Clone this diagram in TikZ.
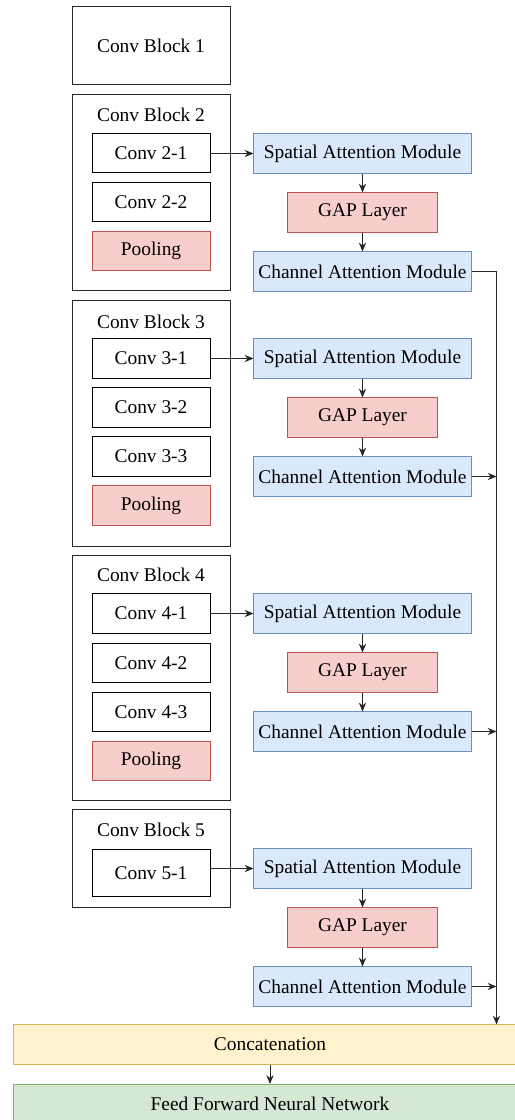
\documentclass[tikz,border=0pt]{standalone}
\usepackage{fontspec}
\setmainfont{Liberation Serif}
\usetikzlibrary{arrows.meta,positioning}
\definecolor{attfill}{HTML}{DAE8FC}
\definecolor{attline}{HTML}{6C8EBF}
\definecolor{redfill}{HTML}{F8CECC}
\definecolor{redline}{HTML}{B85450}
\definecolor{catfill}{HTML}{FFF2CC}
\definecolor{catline}{HTML}{D6B656}
\definecolor{ffnfill}{HTML}{D5E8D4}
\definecolor{ffnline}{HTML}{82B366}

\begin{document}
\begin{tikzpicture}[
    x=0.025cm,y=-0.025cm,
    font=\fontsize{13.8}{16}\selectfont,
    blk/.style={draw=black!85,line width=.6pt,minimum width=3.95cm,inner sep=0pt},
    cv/.style={draw=black,line width=.6pt,minimum width=2.95cm,minimum height=.98cm,inner sep=0pt},
    pool/.style={cv,draw=redline,fill=redfill},
    att/.style={draw=attline,fill=attfill,line width=.6pt,minimum width=5.43cm,minimum height=.98cm,inner sep=0pt},
    gap/.style={draw=redline,fill=redfill,line width=.6pt,minimum width=3.73cm,minimum height=.98cm,inner sep=0pt},
    wide/.style={line width=.6pt,minimum width=12.85cm,minimum height=.98cm,inner sep=0pt},
    e/.style={-{Stealth[length=2.2mm,width=1.8mm]},line width=.6pt,black!85}
  ]
    \useasboundingbox (0,0) rectangle (514,1120);
    % conv blocks on the left
    \node[blk,minimum height=1.93cm] (b1) at (151,45.5) {Conv Block 1};
    \node[blk,minimum height=4.9cm] (b2) at (151,192) {}; \node (l2) at (151,115) {Conv Block 2};
    \node[blk,minimum height=6.15cm] (b3) at (151,423) {}; \node (l3) at (151,322) {Conv Block 3};
    \node[blk,minimum height=6.125cm] (b4) at (151,677.5) {}; \node (l4) at (151,575) {Conv Block 4};
    \node[blk,minimum height=2.45cm] (b5) at (151,858) {}; \node (l5) at (151,830) {Conv Block 5};
    \node[cv] (cv21) at (151,153) {Conv 2-1}; \node[cv] (cv22) at (151,202) {Conv 2-2};
    \node[pool] (p2) at (151,251) {Pooling};
    \node[cv] (cv31) at (151,358.5) {Conv 3-1}; \node[cv] (cv32) at (151,407.5) {Conv 3-2};
    \node[cv] (cv33) at (151,456.5) {Conv 3-3}; \node[pool] (p3) at (151,505.5) {Pooling};
    \node[cv] (cv41) at (151,613.5) {Conv 4-1}; \node[cv] (cv42) at (151,663) {Conv 4-2};
    \node[cv] (cv43) at (151,712) {Conv 4-3}; \node[pool] (p4) at (151,761) {Pooling};
    \node[cv,minimum height=1.18cm] (cv51) at (151,873) {Conv 5-1};
    % attention branches
    \coordinate (bus) at (496.5,0);
    \foreach \k/\y in {2/153.5,3/358.5,4/613.5,5/868.5} {
      \node[att] (s\k) at (362.5,\y) {Spatial Attention Module};
      \node[gap] (g\k) at (362.5,\y+59) {GAP Layer};
      \node[att] (c\k) at (362.5,\y+118) {Channel Attention Module};
      \draw[e] (s\k.west -| cv\k1.east) -- (s\k.west);
      \draw[e] (s\k) -- (g\k); \draw[e] (g\k) -- (c\k);
    }
    \node[wide,draw=catline,fill=catfill] (cat) at (270,1044.5) {Concatenation};
    \node[wide,draw=ffnline,fill=ffnfill] (ffn) at (270,1104) {Feed Forward Neural Network};
    \draw[e] (c2.east) -| (cat.north -| bus);
    \foreach \k in {3,4,5} {\draw[e] (c\k.east) -- (c\k.east -| bus);}
    \draw[e] (cat) -- (ffn);
\end{tikzpicture}
\end{document}
